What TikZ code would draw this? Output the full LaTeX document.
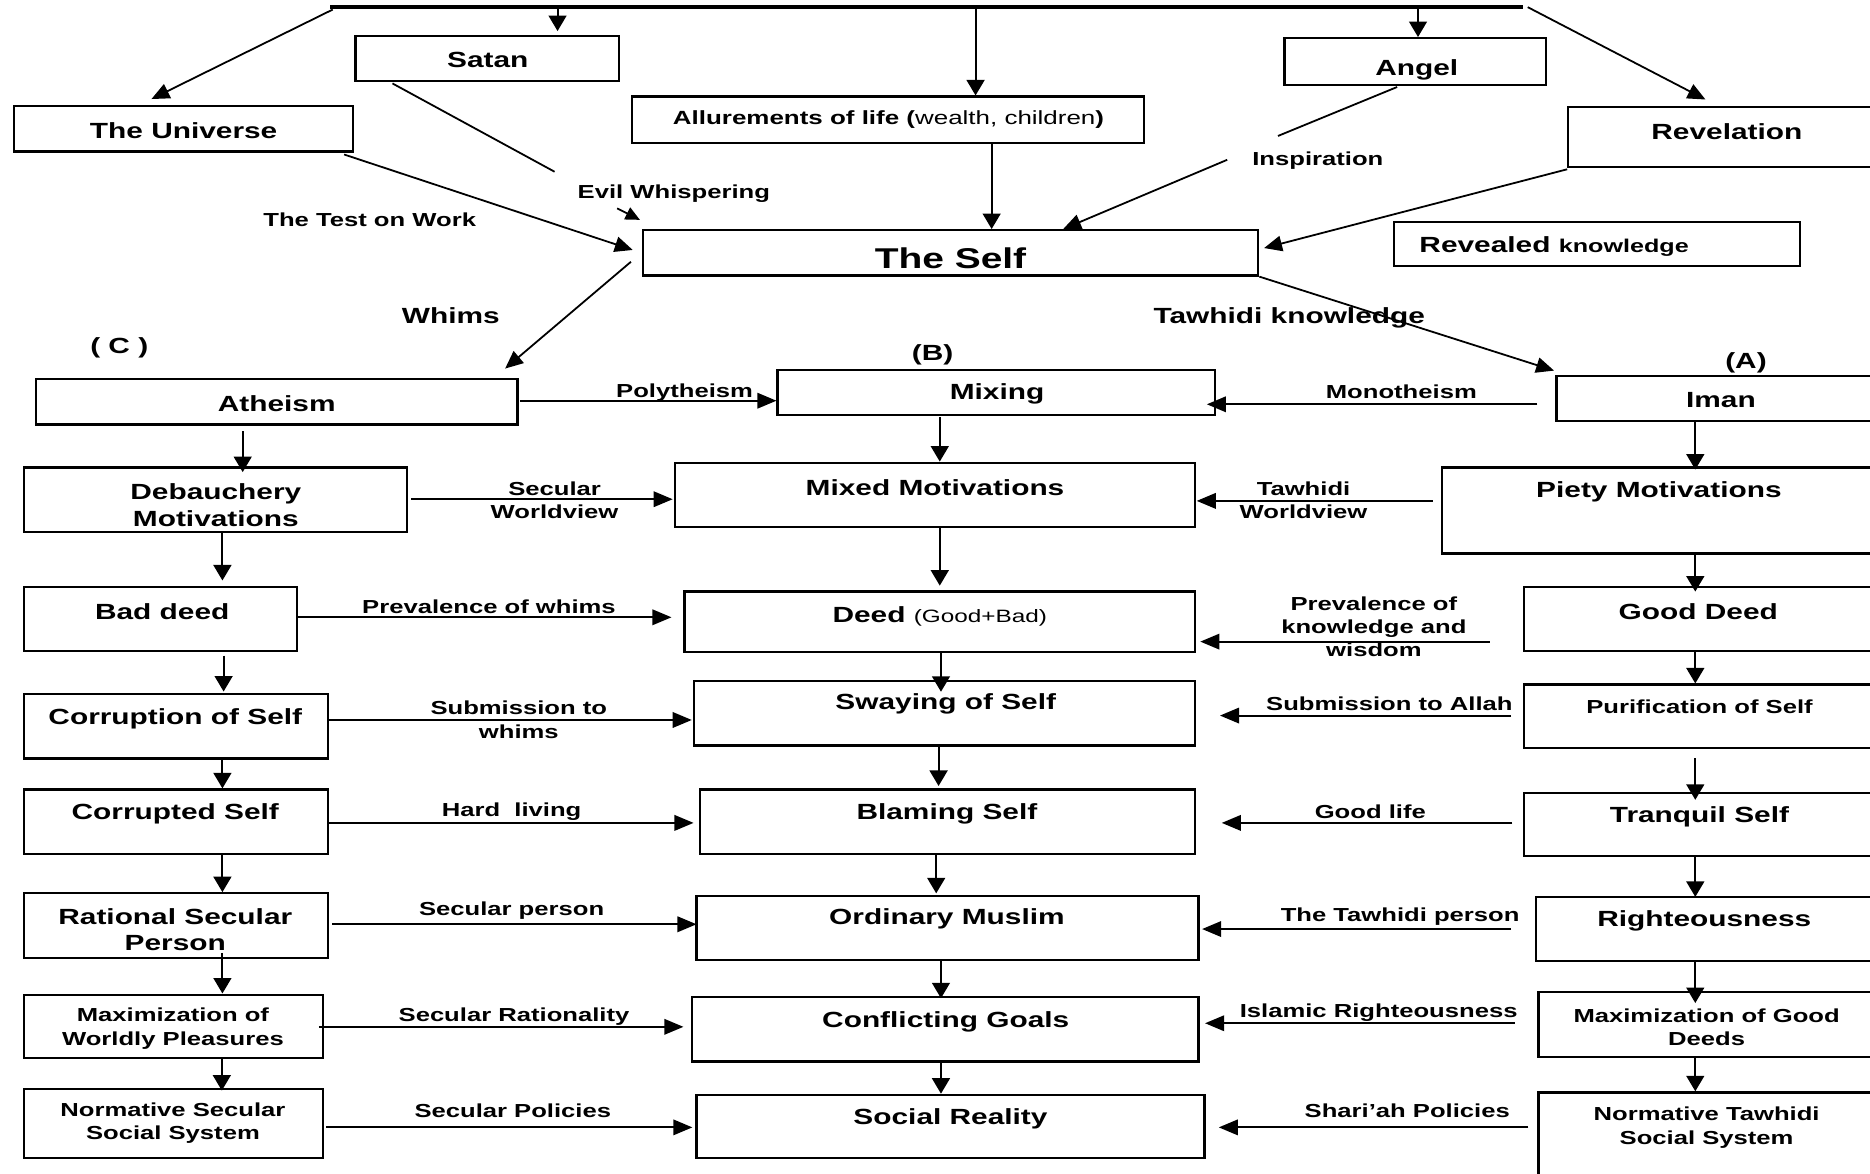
\documentclass[tikz,border=0pt]{standalone}
\usepackage{fontspec}
\setmainfont{Liberation Sans}[FakeStretch=1.36]
\usetikzlibrary{arrows.meta,fit,calc}
\tikzset{
  box/.style={draw, line width=1.9pt, inner sep=0pt},
  T/.style={font=\bfseries\fontsize{18.4}{22}\selectfont, inner sep=0pt, align=center, yshift=-1.5pt},
  S/.style={font=\bfseries\fontsize{15.8}{19.5}\selectfont, inner sep=0pt, align=center, yshift=-1.5pt},
  ha/.style={-{Triangle[length=16pt,width=13pt]}, line width=1.6pt},
  va/.style={-{Triangle[length=13pt,width=15pt]}, line width=1.6pt},
  da/.style={-{Triangle[length=15pt,width=13pt]}, line width=1.5pt},
  ln/.style={line width=1.5pt},
  bar/.style={line width=3.6pt},
}
\newcommand\mybox[5]{\node[box, fit={(#2,#3) (#4,#5)}] (#1) {};}
\begin{document}
\begin{tikzpicture}[x=1pt,y=-1pt]
\fill[white] (0,0) rectangle (1568,984);
\clip (0,0) rectangle (1568,984);

% boxes
\mybox{satan}{298}{30}{519}{68}
\mybox{univ}{12}{89}{296}{127}
\mybox{allure}{530}{81}{959}{120}
\mybox{angel}{1077}{32}{1296}{71}
\mybox{rev}{1315}{90}{1581}{140}
\mybox{revk}{1169}{186}{1509}{223}
\mybox{self}{539}{193}{1055}{231}
\mybox{ath}{30}{318}{434}{356}
\mybox{mix}{652}{310}{1019}{348}
\mybox{iman}{1305}{315}{1581}{353}
\mybox{deb}{20}{392}{341}{446}
\mybox{mixm}{566}{388}{1002}{442}
\mybox{piety}{1209}{392}{1581}{464}
\mybox{bad}{20}{492}{249}{546}
\mybox{deed}{574}{496}{1002}{547}
\mybox{gdeed}{1278}{492}{1581}{546}
\mybox{corr}{20}{582}{275}{636}
\mybox{sway}{582}{571}{1002}{625}
\mybox{pur}{1278}{574}{1581}{627}
\mybox{cord}{20}{662}{275}{716}
\mybox{blam}{587}{662}{1002}{716}
\mybox{tran}{1278}{665}{1581}{718}
\mybox{rat}{20}{749}{275}{803}
\mybox{ord}{584}{751}{1005}{805}
\mybox{right}{1288}{752}{1581}{806}
\mybox{maxw}{20}{834}{271}{887}
\mybox{conf}{580}{836}{1005}{890}
\mybox{maxg}{1290}{832}{1581}{886}
\mybox{nsec}{20}{913}{271}{971}
\mybox{soc}{584}{918}{1010}{971}
\mybox{ntaw}{1290}{916}{1581}{1000}

% box texts
\node[T] (satan-t) at (409,49) {Satan};
\node[T] (univ-t) at (154,108) {The Universe};
\node[S, font=\fontsize{16}{19}\selectfont] (allure-t) at (745,99) {{\bfseries Allurements of life (}wealth, children{\bfseries )}};
\node[T] (angel-t) at (1188,57) {Angel};
\node[T] (rev-t) at (1448,109) {Revelation};
\node[T, anchor=west] (revk-t) at (1190,205) {Revealed {\fontsize{15.5}{18}\selectfont knowledge}};
\node[T, font=\bfseries\fontsize{24}{28}\selectfont] (self-t) at (797,215) {The Self};
\node[T] (lc) at (100,290) {( C )};
\node[T] (lb) at (782,296) {(B)};
\node[T] (la) at (1464,303) {(A)};
\node[T] (ath-t) at (232,337) {Atheism};
\node[T] (mix-t) at (836,329) {Mixing};
\node[T] (iman-t) at (1443,334) {Iman};
\node[T] (deb-t) at (181,422) {Debauchery\\Motivations};
\node[T] (mixm-t) at (784,407) {Mixed Motivations};
\node[T] (piety-t) at (1391,411) {Piety Motivations};
\node[T] (bad-t) at (136,511) {Bad deed};
\node[T] (deed-t) at (788,515) {Deed {\mdseries\fontsize{15}{18}\selectfont(Good+Bad)}};
\node[T] (gdeed-t) at (1424,511) {Good Deed};
\node[T] (corr-t) at (147,601) {Corruption of Self};
\node[T] (sway-t) at (793,589) {Swaying of Self};
\node[S] (pur-t) at (1425,591) {Purification of Self};
\node[T] (cord-t) at (147,681) {Corrupted Self};
\node[T] (blam-t) at (794,681) {Blaming Self};
\node[T] (tran-t) at (1425,683) {Tranquil Self};
\node[T] (rat-t) at (147,778) {Rational Secular\\Person};
\node[T] (ord-t) at (794,769) {Ordinary Muslim};
\node[T] (right-t) at (1429,771) {Righteousness};
\node[S] (maxw-t) at (145,861) {Maximization of\\Worldly Pleasures};
\node[T] (conf-t) at (793,855) {Conflicting Goals};
\node[S] (maxg-t) at (1431,860) {Maximization of Good\\Deeds};
\node[S] (nsec-t) at (145,940) {Normative Secular\\Social System};
\node[T] (soc-t) at (797,937) {Social Reality};
\node[S] (ntaw-t) at (1431,944) {Normative Tawhidi\\Social System};

% connector labels
\node[S] (l-ew) at (565,161) {Evil Whispering};
\node[S] (l-tw) at (310,183) {The Test on Work};
\node[S] (l-in) at (1105,133) {Inspiration};
\node[T] (l-wh) at (378,263) {Whims};
\node[T] (l-tk) at (1081,265) {Tawhidi knowledge};
\node[S] (l-poly) at (574,328) {Polytheism};
\node[S] (l-mono) at (1175,327) {Monotheism};
\node[S, font=\bfseries\fontsize{15.8}{19}\selectfont] (l-sw) at (465,418) {Secular\\Worldview};
\node[S, font=\bfseries\fontsize{15.8}{19}\selectfont] (l-tww) at (1093,418) {Tawhidi\\Worldview};
\node[S] (l-pw) at (410,507) {Prevalence of whims};
\node[S] (l-pk) at (1152,524) {Prevalence of\\knowledge and\\wisdom};
\node[S] (l-stw) at (435,602) {Submission to\\whims};
\node[S] (l-sta) at (1165,589) {Submission to Allah};
\node[S] (l-hl) at (429,679) {Hard\ \ living};
\node[S] (l-gl) at (1149,679) {Good life};
\node[S] (l-sp) at (429,762) {Secular person};
\node[S] (l-tp) at (1174,767) {The Tawhidi person};
\node[S] (l-sr) at (431,851) {Secular Rationality};
\node[S] (l-ir) at (1156,848) {Islamic Righteousness};
\node[S] (l-spo) at (430,930) {Secular Policies};
\node[S] (l-shp) at (1180,930) {Shari’ah Policies};

% top bar
\coordinate (barL) at (277,6);
\coordinate (barR) at (1277,6);
\coordinate (b1) at (467.5,6);
\coordinate (b2) at (818,6);
\coordinate (b3) at (1189,6);
\draw[bar] (barL) -- (barR);
\draw[va, shorten >=3pt] (b1) -- (b1 |- satan.north);
\draw[va] (b2) -- (b2 |- allure.north);
\draw[va] (b3) -- (b3 |- angel.north);
\draw[da] ([xshift=2pt,yshift=-2pt]barL) -- ([xshift=-27pt,yshift=5pt]univ.north);
\draw[da] ([xshift=4pt]barR) -- ([xshift=116pt,yshift=5.6pt]rev.north west);

% into the Self
\draw[da] ([xshift=-8.4pt,yshift=-1.6pt]univ.south east) -- ([xshift=-7.5pt,yshift=2.4pt]self.west);
\coordinate (ew1) at (465,144);
\coordinate (ew2) at (517.5,174.7);
\draw[ln] ([xshift=32pt,yshift=-1pt]satan.south west) -- (ew1);
\draw[-{Triangle[length=12pt,width=11pt]}, line width=1.5pt] (ew2) -- ([xshift=-1.5pt,yshift=7.7pt]self.north west);
\coordinate (a1) at ([xshift=87pt]allure.south);
\draw[va] (a1) -- (a1 |- self.north);
\coordinate (in1) at (1071.6,114);
\coordinate (in2) at (1029,134);
\draw[ln] ([xshift=-15pt,yshift=-1pt]angel.south) -- (in1);
\draw[da] (in2) -- ([xshift=94.5pt]self.north);
\draw[da] ([yshift=-1pt]rev.south west) -- ([xshift=4pt,yshift=4pt]self.east);

% out of the Self
\draw[da] ([xshift=-9pt,yshift=-7.5pt]self.west) -- ([xshift=-11.4pt,yshift=8pt]ath.north east);
\draw[da] (self.south east) -- ([xshift=-1pt,yshift=3.3pt]iman.north west);

% left column down
\draw[va, shorten <=4.6pt, shorten >=-4.8pt] (ath.south -| 203.5,0) -- (deb.north -| 203.5,0);
\draw[va, shorten >=4.3pt] (deb.south -| 186.5,0) -- (bad.north -| 186.5,0);
\draw[va, shorten <=2.7pt, shorten >=1.2pt] (bad.south -| 187.5,0) -- (corr.north -| 187.5,0);
\draw[va] (corr.south -| 186.5,0) -- (cord.north -| 186.5,0);
\draw[va] (cord.south -| 186.5,0) -- (rat.north -| 186.5,0);
\draw[va, shorten <=-5pt] (rat.south -| 186.5,0) -- (maxw.north -| 186.5,0);
\draw[va, shorten >=-2.4pt] (maxw.south -| 186,0) -- (nsec.north -| 186,0);

% centre column down
\draw[va, shorten <=1pt] (mix.south -| 788,0) -- (mixm.north -| 788,0);
\draw[va, shorten >=4pt] (mixm.south -| 788,0) -- (deed.north -| 788,0);
\draw[va, shorten >=-10pt] (deed.south -| 789,0) -- (sway.north -| 789,0);
\draw[va, shorten >=2pt] (sway.south -| 787,0) -- (blam.north -| 787,0);
\draw[va, shorten >=1pt] (blam.south -| 785,0) -- (ord.north -| 785,0);
\draw[va, shorten >=-2pt] (ord.south -| 789,0) -- (conf.north -| 789,0);
\draw[va] (conf.south -| 789,0) -- (soc.north -| 789,0);

% right column down
\draw[va, shorten >=-2.7pt] (iman.south -| 1421.5,0) -- (piety.north -| 1421.5,0);
\draw[va, shorten >=-5pt] (piety.south -| 1421.5,0) -- (gdeed.north -| 1421.5,0);
\draw[va] (gdeed.south -| 1421.5,0) -- (pur.north -| 1421.5,0);
\draw[va, shorten <=8pt, shorten >=-6.6pt] (pur.south -| 1421.5,0) -- (tran.north -| 1421.5,0);
\draw[va, shorten >=-1pt] (tran.south -| 1421.5,0) -- (right.north -| 1421.5,0);
\draw[va, shorten >=-10pt] (right.south -| 1421.5,0) -- (maxg.north -| 1421.5,0);
\draw[va] (maxg.south -| 1421.5,0) -- (ntaw.north -| 1421.5,0);

% left to centre
\draw[ha, shorten <=1pt] (ath.east |- 0,336) -- (mix.west |- 0,336);
\draw[ha, shorten <=3pt, shorten >=1pt] (deb.east |- 0,418.6) -- (mixm.west |- 0,418.6);
\draw[ha, shorten >=10pt] (bad.east |- 0,517.6) -- (deed.west |- 0,517.6);
\draw[ha, shorten >=1pt] (corr.east |- 0,603.7) -- (sway.west |- 0,603.7);
\draw[ha, shorten >=4.5pt] (cord.east |- 0,690) -- (blam.west |- 0,690);
\draw[ha, shorten <=2.5pt, shorten >=-1pt] (rat.east |- 0,775) -- (ord.west |- 0,775);
\draw[ha, shorten <=-4.5pt, shorten >=6pt] (maxw.east |- 0,861) -- (conf.west |- 0,861);
\draw[ha, shorten <=1.5pt, shorten >=2.5pt] (nsec.east |- 0,945.3) -- (soc.west |- 0,945.3);

% right to centre
\draw[ha, shorten <=15pt, shorten >=-8pt] (iman.west |- 0,339) -- (mix.east |- 0,339);
\draw[ha, shorten <=6.5pt, shorten >=0.5pt] (piety.west |- 0,420) -- (mixm.east |- 0,420);
\draw[ha, shorten <=28pt, shorten >=3.5pt] (gdeed.west |- 0,538) -- (deed.east |- 0,538);
\draw[ha, shorten <=10pt, shorten >=20pt] (pur.west |- 0,600) -- (sway.east |- 0,600);
\draw[ha, shorten <=9pt, shorten >=21.5pt] (tran.west |- 0,690) -- (blam.east |- 0,690);
\draw[ha, shorten <=20pt, shorten >=2pt] (right.west |- 0,779) -- (ord.east |- 0,779);
\draw[ha, shorten <=19pt, shorten >=4.5pt] (maxg.west |- 0,858) -- (conf.east |- 0,858);
\draw[ha, shorten <=7.5pt, shorten >=11pt] (ntaw.west |- 0,945.3) -- (soc.east |- 0,945.3);
\end{tikzpicture}
\end{document}
